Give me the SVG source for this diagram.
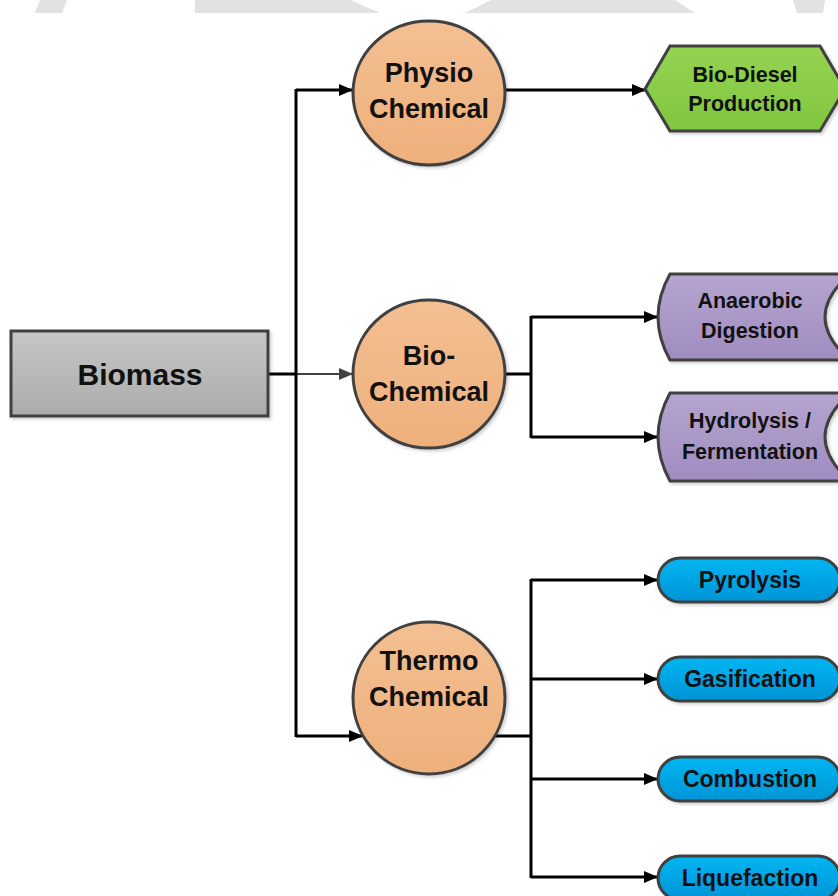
<svg xmlns="http://www.w3.org/2000/svg" width="838" height="896" viewBox="0 0 838 896">
<defs>
<linearGradient id="gGray" x1="0" y1="0" x2="0" y2="1"><stop offset="0" stop-color="#c6c6c6"/><stop offset="1" stop-color="#acacac"/></linearGradient>
<linearGradient id="gOrange" x1="0" y1="0" x2="0" y2="1"><stop offset="0" stop-color="#f3bf92"/><stop offset="1" stop-color="#eeb07c"/></linearGradient>
<linearGradient id="gGreen" x1="0" y1="0" x2="0" y2="1"><stop offset="0" stop-color="#95d352"/><stop offset="1" stop-color="#80c63e"/></linearGradient>
<linearGradient id="gPurple" x1="0" y1="0" x2="0" y2="1"><stop offset="0" stop-color="#b5a5cf"/><stop offset="1" stop-color="#a08cc0"/></linearGradient>
<linearGradient id="gBlue" x1="0" y1="0" x2="0" y2="1"><stop offset="0" stop-color="#00b6f2"/><stop offset="1" stop-color="#0094d6"/></linearGradient>
<filter id="sh" x="-10%" y="-10%" width="130%" height="130%"><feDropShadow dx="2" dy="2" stdDeviation="1.5" flood-color="#000" flood-opacity="0.18"/></filter>
<marker id="ah" viewBox="0 0 14 12" refX="13" refY="6" markerWidth="14" markerHeight="12" markerUnits="userSpaceOnUse" orient="auto"><path d="M0,0 L14,6 L0,12 Z" fill="#000"/></marker>
<marker id="ahg" viewBox="0 0 14 12" refX="13" refY="6" markerWidth="14" markerHeight="12" markerUnits="userSpaceOnUse" orient="auto"><path d="M0,0 L14,6 L0,12 Z" fill="#404040"/></marker>
</defs>
<style>
.node{stroke:#404040;stroke-width:3;filter:url(#sh)}
.t{font-family:"Liberation Sans",Arial,sans-serif;font-weight:bold;fill:#111;text-anchor:middle}
.c{fill:none;stroke:#000;stroke-width:3}
</style>
<g id="watermark" fill="#e2e2e2">
<polygon points="40,0 67,0 62,13 35,13"/>
<polygon points="195,0 350,0 380,13 195,13"/>
<polygon points="491,0 675,0 695,13 465,13"/>
<polygon points="793,0 825,0 823,13 797,13"/>
</g>
<g id="connectors">
<polyline class="c" points="268,374 296,374"/>
<line x1="296" y1="374" x2="352" y2="374" stroke="#404040" stroke-width="2" marker-end="url(#ahg)"/>
<line class="c" x1="296" y1="89" x2="296" y2="737"/>
<polyline class="c" points="296,90 352,90" marker-end="url(#ah)"/>
<polyline class="c" points="296,736 362,736" marker-end="url(#ah)"/>
<polyline class="c" points="505,90 645,90" marker-end="url(#ah)"/>
<polyline class="c" points="505,374 531,374"/>
<line class="c" x1="531" y1="316" x2="531" y2="438"/>
<polyline class="c" points="531,317 657,317" marker-end="url(#ah)"/>
<polyline class="c" points="531,437 657,437" marker-end="url(#ah)"/>
<polyline class="c" points="494,736 531,736"/>
<line class="c" x1="531" y1="579" x2="531" y2="878"/>
<polyline class="c" points="531,580 657,580" marker-end="url(#ah)"/>
<polyline class="c" points="531,679 657,679" marker-end="url(#ah)"/>
<polyline class="c" points="531,779 657,779" marker-end="url(#ah)"/>
<polyline class="c" points="531,877 657,877" marker-end="url(#ah)"/>
</g>
<g id="biomass"><rect class="node" x="11" y="331" width="257" height="85" fill="url(#gGray)"/><text class="t" x="140" y="385" font-size="30">Biomass</text></g>
<g id="physio"><ellipse class="node" cx="429" cy="93" rx="76" ry="72" fill="url(#gOrange)"/><text class="t" x="429" y="82" font-size="27">Physio</text><text class="t" x="429" y="118" font-size="27">Chemical</text></g>
<g id="bio"><ellipse class="node" cx="429" cy="374" rx="76" ry="74" fill="url(#gOrange)"/><text class="t" x="429" y="365" font-size="27">Bio-</text><text class="t" x="429" y="401" font-size="27">Chemical</text></g>
<g id="thermo"><ellipse class="node" cx="429" cy="698" rx="76" ry="76" fill="url(#gOrange)"/><text class="t" x="429" y="670" font-size="27">Thermo</text><text class="t" x="429" y="706" font-size="27">Chemical</text></g>
<g id="biodiesel"><polygon class="node" points="645,89 670,46 820,46 845,89 820,131 670,131" fill="url(#gGreen)"/><text class="t" x="745" y="82" font-size="21.5">Bio-Diesel</text><text class="t" x="745" y="111" font-size="21.5">Production</text></g>
<g id="anaerobic"><path class="node" d="M670,274 L850,274 Q800,317 850,360 L670,360 Q646,317 670,274 Z" fill="url(#gPurple)"/><text class="t" x="750" y="308" font-size="21.5">Anaerobic</text><text class="t" x="750" y="338" font-size="21.5">Digestion</text></g>
<g id="hydrolysis"><path class="node" d="M670,393 L850,393 Q800,437 850,481 L670,481 Q646,437 670,393 Z" fill="url(#gPurple)"/><text class="t" x="750" y="428" font-size="21.5">Hydrolysis /</text><text class="t" x="750" y="459" font-size="21.5">Fermentation</text></g>
<g id="pyrolysis"><rect class="node" x="658" y="558" width="182" height="44" rx="22" fill="url(#gBlue)"/><text class="t" x="750" y="588" font-size="23">Pyrolysis</text></g>
<g id="gasification"><rect class="node" x="658" y="657" width="182" height="44" rx="22" fill="url(#gBlue)"/><text class="t" x="750" y="687" font-size="23">Gasification</text></g>
<g id="combustion"><rect class="node" x="658" y="757" width="182" height="44" rx="22" fill="url(#gBlue)"/><text class="t" x="750" y="787" font-size="23">Combustion</text></g>
<g id="liquefaction"><rect class="node" x="658" y="856" width="182" height="44" rx="22" fill="url(#gBlue)"/><text class="t" x="750" y="886" font-size="23">Liquefaction</text></g>
</svg>
